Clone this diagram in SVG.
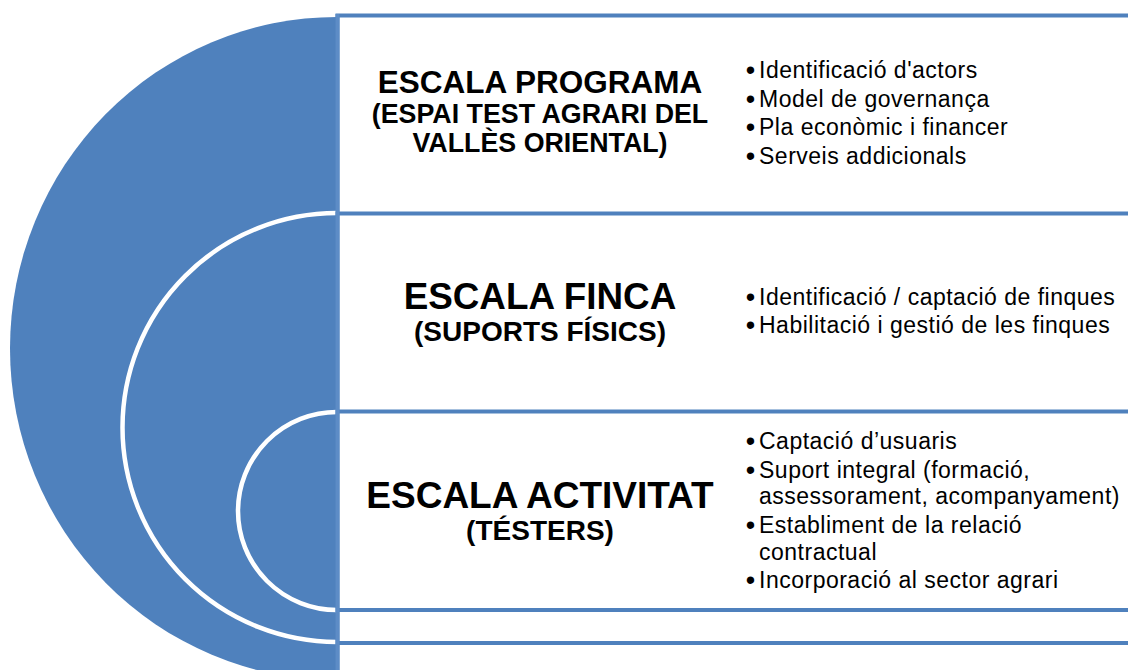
<svg xmlns="http://www.w3.org/2000/svg" width="1128" height="670" viewBox="0 0 1128 670">
<style>
.disc{fill:#4f81bd}
.ring{fill:none;stroke:#fff;stroke-width:4.5}
.box{fill:#fff;stroke:#4f81bd;stroke-width:4}
.t{font-family:"Liberation Sans",Arial,sans-serif;font-weight:bold;fill:#000;text-anchor:middle}
.b{font-family:"Liberation Sans",Arial,sans-serif;fill:#000;font-size:23px;letter-spacing:0.5px}
.d{font-family:"Liberation Sans",Arial,sans-serif;fill:#000;font-size:27px;text-anchor:middle}
</style>
<rect width="1128" height="670" fill="#fff"/>
<g id="node-programa">
<path class="disc" d="M337,17 A327,331.5 0 0 0 337,680 Z"/>
<rect class="box" x="337.5" y="15.5" width="850" height="665"/>
<text class="t" x="540" y="93" font-size="31.5">ESCALA PROGRAMA</text>
<text class="t" x="540" y="123" font-size="26.8">(ESPAI TEST AGRARI DEL</text>
<text class="t" x="540" y="152" font-size="26.8">VALLÈS ORIENTAL)</text>
<text class="d" x="750.5" y="79">•</text><text class="b" x="759" y="78">Identificació d'actors</text>
<text class="d" x="750.5" y="107.5">•</text><text class="b" x="759" y="106.5">Model de governança</text>
<text class="d" x="750.5" y="136">•</text><text class="b" x="759" y="135">Pla econòmic i financer</text>
<text class="d" x="750.5" y="164.5">•</text><text class="b" x="759" y="163.5">Serveis addicionals</text>
</g>
<g id="node-finca">
<path class="disc" d="M337,213 A214.5,214.5 0 0 0 337,642 Z"/>
<path class="ring" d="M337,213 A214.5,214.5 0 0 0 337,642"/>
<rect class="box" x="337.5" y="213.5" width="850" height="429.5"/>
<text class="t" x="540" y="309" font-size="36.8">ESCALA FINCA</text>
<text class="t" x="540" y="341" font-size="28">(SUPORTS FÍSICS)</text>
<text class="d" x="750.5" y="306">•</text><text class="b" x="759" y="305">Identificació / captació de finques</text>
<text class="d" x="750.5" y="334">•</text><text class="b" x="759" y="333">Habilitació i gestió de les finques</text>
</g>
<g id="node-activitat">
<path class="disc" d="M337,412 A99,99 0 0 0 337,610 Z"/>
<path class="ring" d="M337,412 A99,99 0 0 0 337,610"/>
<rect class="box" x="337.5" y="411.5" width="850" height="198.5"/>
<text class="t" x="540" y="508" font-size="37">ESCALA ACTIVITAT</text>
<text class="t" x="540" y="540" font-size="28">(TÉSTERS)</text>
<text class="d" x="750.5" y="450">•</text><text class="b" x="759" y="449">Captació d’usuaris</text>
<text class="d" x="750.5" y="479">•</text><text class="b" x="759" y="478">Suport integral (formació,</text>
<text class="b" x="759" y="504">assessorament, acompanyament)</text>
<text class="d" x="750.5" y="534">•</text><text class="b" x="759" y="533">Establiment de la relació</text>
<text class="b" x="759" y="559.5">contractual</text>
<text class="d" x="750.5" y="589">•</text><text class="b" x="759" y="588">Incorporació al sector agrari</text>
</g>
<g id="divider">
<line x1="337.5" y1="14" x2="337.5" y2="670" stroke="#5d8cc6" stroke-width="4"/>
</g>
<g id="connectors"/>
</svg>
